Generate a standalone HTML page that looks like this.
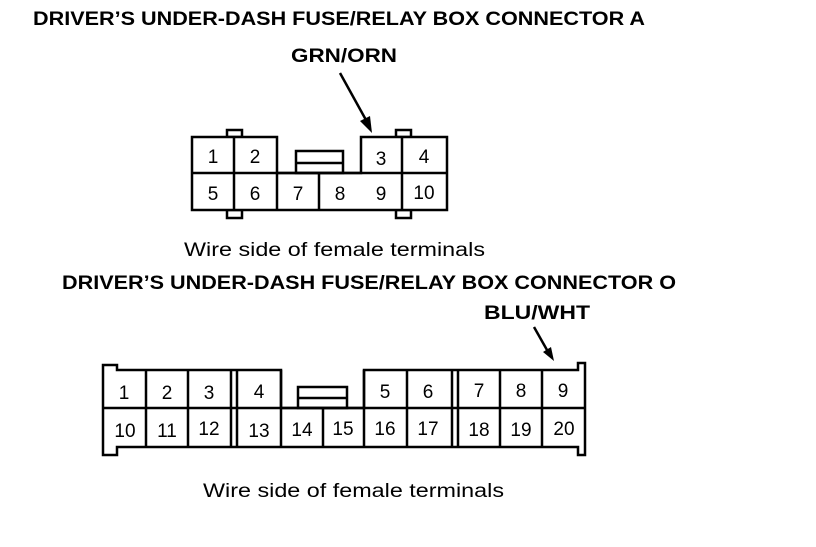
<!DOCTYPE html><html><head><style>body{margin:0;background:#fff}</style></head><body>
<svg width="816" height="542" xmlns="http://www.w3.org/2000/svg" font-family="Liberation Sans, sans-serif">
<rect width="816" height="542" fill="#fff"/>
<g font-weight="bold" font-size="19" fill="#000">
<text x="33" y="25" textLength="612" lengthAdjust="spacingAndGlyphs">DRIVER’S UNDER-DASH FUSE/RELAY BOX CONNECTOR A</text>
<text x="291" y="62" textLength="106" lengthAdjust="spacingAndGlyphs">GRN/ORN</text>
<text x="62" y="289" textLength="614" lengthAdjust="spacingAndGlyphs">DRIVER’S UNDER-DASH FUSE/RELAY BOX CONNECTOR O</text>
<text x="484" y="319" textLength="106" lengthAdjust="spacingAndGlyphs">BLU/WHT</text>
</g>
<g font-size="19" fill="#000">
<text x="184" y="256" textLength="301" lengthAdjust="spacingAndGlyphs">Wire side of female terminals</text>
<text x="203" y="497" textLength="301" lengthAdjust="spacingAndGlyphs">Wire side of female terminals</text>
</g>
<g stroke="#000" fill="none" stroke-width="2.5">
<line x1="340" y1="73" x2="366" y2="120"/>
<line x1="534" y1="327" x2="547" y2="350"/>
<rect x="227" y="130" width="15" height="7"/><rect x="396" y="130" width="15" height="7"/>
<rect x="227" y="210" width="15" height="8"/><rect x="396" y="210" width="15" height="8"/>
<path d="M192 137H277V173H361V137H447V210H192Z" fill="#fff"/>
<line x1="192" y1="173" x2="447" y2="173"/>
<line x1="234" y1="137" x2="234" y2="210"/><line x1="277" y1="173" x2="277" y2="210"/>
<line x1="319" y1="173" x2="319" y2="210"/><line x1="402" y1="137" x2="402" y2="210"/>
<rect x="296" y="151" width="47" height="22"/><line x1="296" y1="163" x2="343" y2="163"/>
<path d="M103 365H117V370H281V408H364V370H578V363H585V455H578V447H117V455H103Z" fill="#fff"/>
<line x1="103" y1="408" x2="585" y2="408"/>
<line x1="146" y1="370" x2="146" y2="447"/><line x1="188" y1="370" x2="188" y2="447"/>
<line x1="231" y1="370" x2="231" y2="447"/><line x1="237" y1="370" x2="237" y2="447"/>
<line x1="281" y1="370" x2="281" y2="447"/><line x1="323" y1="408" x2="323" y2="447"/>
<line x1="364" y1="370" x2="364" y2="447"/><line x1="407" y1="370" x2="407" y2="447"/>
<line x1="452" y1="370" x2="452" y2="447"/><line x1="458" y1="370" x2="458" y2="447"/>
<line x1="500" y1="370" x2="500" y2="447"/><line x1="542" y1="370" x2="542" y2="447"/>
<rect x="298" y="387" width="49" height="21"/><line x1="298" y1="398" x2="347" y2="398"/>
</g>
<polygon points="372,133 360,121 370,116" fill="#000"/>
<polygon points="554,361 543,352 551,347" fill="#000"/>
<g font-size="19" fill="#000" text-anchor="middle">
<text x="213" y="163">1</text><text x="255" y="163">2</text><text x="381" y="165">3</text><text x="424" y="163">4</text>
<text x="213" y="200">5</text><text x="255" y="200">6</text><text x="298" y="200">7</text><text x="340" y="200">8</text><text x="381" y="200">9</text><text x="424" y="199">10</text>
<text x="124" y="399">1</text><text x="167" y="399">2</text><text x="209" y="399">3</text><text x="259" y="398">4</text>
<text x="385" y="398">5</text><text x="428" y="398">6</text><text x="479" y="397">7</text><text x="521" y="397">8</text><text x="563" y="397">9</text>
<text x="125" y="437">10</text><text x="167" y="437">11</text><text x="209" y="435">12</text><text x="259" y="437">13</text>
<text x="302" y="436">14</text><text x="343" y="435">15</text><text x="385" y="435">16</text><text x="428" y="435">17</text>
<text x="479" y="436">18</text><text x="521" y="436">19</text><text x="564" y="435">20</text>
</g>
</svg>
</body></html>
